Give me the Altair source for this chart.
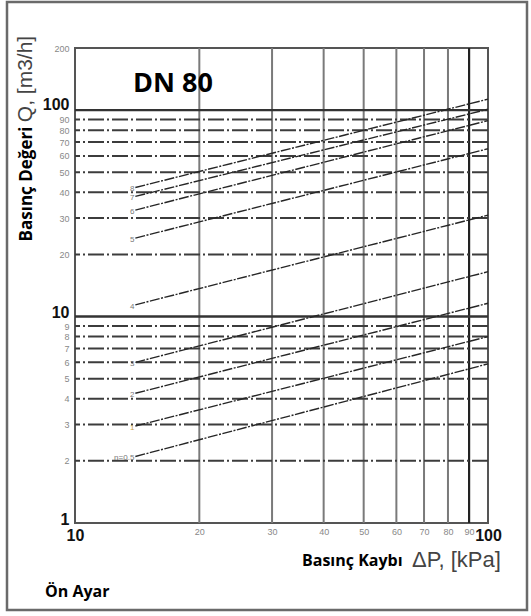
import altair as alt
import pandas as pd

# --- data ---
settings = ["n=0.5", "1", "2", "3", "4", "5", "6", "7", "8"]
dp_start = [14, 14, 14, 14, 14, 14, 14, 14, 14]
q_start = [2.1, 2.95, 4.25, 6.0, 11.4, 24.0, 32.8, 38.2, 42.2]
dp_end = [100, 100, 100, 100, 100, 100, 100, 100, 100]
q_end = [5.9, 8.0, 11.6, 16.5, 31.0, 65.0, 89.0, 101.0, 113.0]

y_ticks = [1, 2, 3, 4, 5, 6, 7, 8, 9, 10, 20, 30, 40, 50, 60, 70, 80, 90, 100, 200]
x_ticks = [10, 20, 30, 40, 50, 60, 70, 80, 90, 100]
h_grid_minor = [2, 3, 4, 5, 6, 7, 8, 9, 20, 30, 40, 50, 60, 70, 80, 90]
h_grid_major = [10, 100]
v_grid = [20, 30, 40, 50, 60, 70, 80]
v_grid_dark = [90]

# --- tables ---
rows = []
for s, x0, y0, x1, y1 in zip(settings, dp_start, q_start, dp_end, q_end):
    rows.append({"set": s, "dp": x0, "q": y0, "pos": "start"})
    rows.append({"set": s, "dp": x1, "q": y1, "pos": "end"})
lines_df = pd.DataFrame(rows)
labels_df = lines_df[lines_df["pos"] == "start"]

xscale = alt.Scale(type="log", domain=[10, 100], nice=False)
yscale = alt.Scale(type="log", domain=[1, 200], nice=False)

bold_y = "datum.value == 1 || datum.value == 10 || datum.value == 100"
bold_x = "datum.value == 10 || datum.value == 100"

xaxis = alt.Axis(
    values=x_ticks, format="d", title=None, grid=False, ticks=False, domain=False,
    labelFont="Liberation Sans", labelPadding=4, labelBaseline="top",
    labelFontSize={"expr": f"({bold_x}) ? 16 : 9"},
    labelFontWeight={"expr": f"({bold_x}) ? 'bold' : 'normal'"},
    labelColor={"expr": f"({bold_x}) ? '#111111' : '#888888'"},
    labelFlush=False, labelOverlap=False,
)
yaxis = alt.Axis(
    values=y_ticks, format="d", title=None, grid=False, ticks=False, domain=False,
    labelFont="Liberation Sans", labelPadding=6, labelBaseline="middle",
    labelFontSize={"expr": f"({bold_y}) ? 16 : 9"},
    labelFontWeight={"expr": f"({bold_y}) ? 'bold' : 'normal'"},
    labelColor={"expr": f"({bold_y}) ? '#111111' : '#888888'"},
    labelOffset={"expr": f"datum.value == 100 ? -6 : (({bold_y}) ? -4 : 0)"},
    labelFlush=False, labelOverlap=False,
)

X = lambda f: alt.X(f, type="quantitative", scale=xscale, axis=xaxis)
Y = lambda f: alt.Y(f, type="quantitative", scale=yscale, axis=yaxis)

hminor = alt.Chart(pd.DataFrame({"g": h_grid_minor})).mark_rule(
    color="#3c3c3c", strokeWidth=2, strokeDash=[16, 3, 2, 3]
).encode(y=Y("g"))
hmajor = alt.Chart(pd.DataFrame({"g": h_grid_major})).mark_rule(
    color="#333333", strokeWidth=2.4
).encode(y=Y("g"))
vgrid = alt.Chart(pd.DataFrame({"g": v_grid})).mark_rule(
    color="#7a7a7a", strokeWidth=2
).encode(x=X("g"))
vdark = alt.Chart(pd.DataFrame({"g": v_grid_dark})).mark_rule(
    color="#222222", strokeWidth=2.2
).encode(x=X("g"))

lines = alt.Chart(lines_df).mark_line(
    color="#262626", strokeWidth=1.4, strokeDash=[10, 1.5, 2, 1.5]
).encode(x=X("dp"), y=Y("q"), detail="set:N")

labels = alt.Chart(labels_df).mark_text(
    align="right", baseline="middle", dx=-1, dy=2, fontSize=8,
    font="Liberation Sans"
).encode(
    x=X("dp"), y=Y("q"), text="set:N",
    color=alt.condition("datum.set == '1'", alt.value("#c9a24a"), alt.value("#777777")),
)

def txt(t, x, y, **kw):
    return alt.Chart(pd.DataFrame({"t": [t]})).mark_text(**kw).encode(
        x=alt.value(x), y=alt.value(y), text="t:N"
    )

title_dn = txt("DN 80", 98, 44, font="Open Sans", fontSize=27, fontWeight="bold",
               align="center", baseline="alphabetic", color="#000000")
on_ayar = txt("Ön Ayar", -30, 549, font="Open Sans", fontSize=16, fontWeight="bold",
              align="left", baseline="alphabetic", color="#000000")
x_t1 = txt("Basınç Kaybı", 227, 518, font="Open Sans", fontSize=16, fontWeight="bold",
           align="left", baseline="alphabetic", color="#000000")
x_t2 = txt("ΔP, [kPa]", 337, 519, font="Liberation Sans", fontSize=22,
           align="left", baseline="alphabetic", color="#444444")
y_t1 = txt("Basınç Değeri", -43, 136, font="Open Sans", fontSize=17, fontWeight="bold",
           align="center", baseline="alphabetic", angle=270, color="#000000")
y_t2 = txt("Q, [m3/h]", -43, 31, font="Liberation Sans", fontSize=21,
           align="center", baseline="alphabetic", angle=270, color="#444444")

frame = alt.Chart(pd.DataFrame({"t": [0]})).mark_rect(
    fill=None, stroke="#6a6a6a", strokeWidth=2.5
).encode(x=alt.value(-68), x2=alt.value(452), y=alt.value(-46), y2=alt.value(562))

chart = alt.layer(
    vgrid, vdark, hminor, hmajor, lines, labels,
    title_dn, on_ayar, x_t1, x_t2, y_t1, y_t2, frame
).properties(
    width=413, height=475,
    autosize=alt.AutoSizeParams(type="none"),
    padding={"left": 75, "top": 48, "right": 43, "bottom": 93},
    background="white",
).configure_view(stroke="#555555", strokeWidth=2)

chart.save("out.html", embed_options={"renderer": "svg", "actions": False})
